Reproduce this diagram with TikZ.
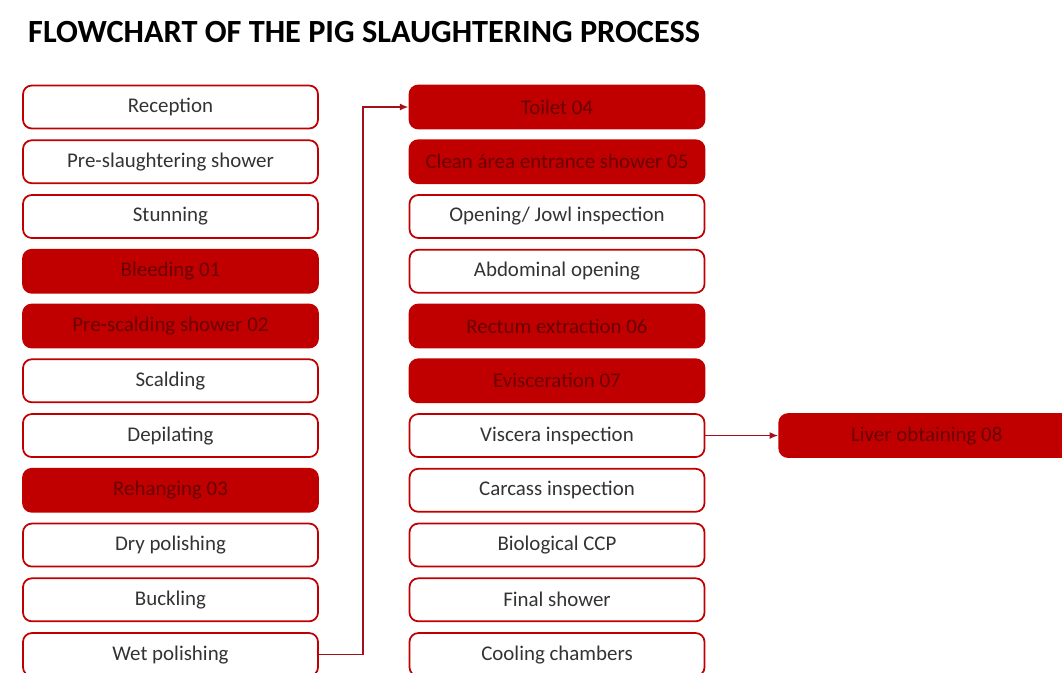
\documentclass[tikz,border=0pt]{standalone}
\usepackage{fontspec}
\setmainfont{Carlito}
\usetikzlibrary{positioning,arrows.meta}
\definecolor{boxred}{HTML}{C00000}
\definecolor{darkred}{HTML}{6A0000}
\definecolor{linered}{HTML}{A3101C}

\begin{document}
\begin{tikzpicture} [
      node distance = 0.2cm,
      proc/.style = {draw=boxred, line width=1pt, rounded corners=5pt, fill=white,
        minimum width=5.9cm, minimum height=0.86cm, inner sep=0,
        text=black!80, font=\fontsize{11.9}{13}\selectfont},
      crit/.style = {proc, fill=boxred, text=darkred},
      link/.style = {draw=linered, line width=1pt, -{Latex[length=5pt,width=4pt]}}
      ]
      \useasboundingbox (0,0) rectangle (21.24,-13.46);
      \clip (0,0) rectangle (21.24,-13.46);

      \node [anchor=west, font=\bfseries\fontsize{18.4}{21}\selectfont] (title) at (0.44,-0.64)
        {FLOWCHART OF THE PIG SLAUGHTERING PROCESS};

      % left column
      \node [proc] (rec) at (3.41,-2.14) {Reception};
      \node [proc, below=of rec] (pre) {Pre-slaughtering shower};
      \node [proc, below=of pre] (stun) {Stunning};
      \node [crit, below=of stun] (bleed) {Bleeding 01};
      \node [crit, below=of bleed] (presc) {Pre-scalding shower 02};
      \node [proc, below=of presc] (scald) {Scalding};
      \node [proc, below=of scald] (depil) {Depilating};
      \node [crit, below=of depil] (rehang) {Rehanging 03};
      \node [proc, below=of rehang] (dry) {Dry polishing};
      \node [proc, below=of dry] (buck) {Buckling};
      \node [proc, below=of buck] (wet) {Wet polishing};

      % right column
      \node [crit] (toil) at (11.14,-2.14) {Toilet 04};
      \node [crit, below=of toil] (clean) {Clean área entrance shower 05};
      \node [proc, below=of clean] (open) {Opening/ Jowl inspection};
      \node [proc, below=of open] (abdo) {Abdominal opening};
      \node [crit, below=of abdo] (rect) {Rectum extraction 06};
      \node [crit, below=of rect] (evis) {Evisceration 07};
      \node [proc, below=of evis] (visc) {Viscera inspection};
      \node [proc, below=of visc] (carc) {Carcass inspection};
      \node [proc, below=of carc] (bio) {Biological CCP};
      \node [proc, below=of bio] (fin) {Final shower};
      \node [proc, below=of fin] (cool) {Cooling chambers};

      \node [crit, minimum width=5.9cm, right=1.46cm of visc] (liver) {Liver obtaining 08};

      \coordinate (bend) at (7.26,0);
      \draw [link] (wet.east) -| (bend |- toil.west) -- (toil.west);
      \draw [link] (visc) -- (liver);
    \end{tikzpicture}
\end{document}
